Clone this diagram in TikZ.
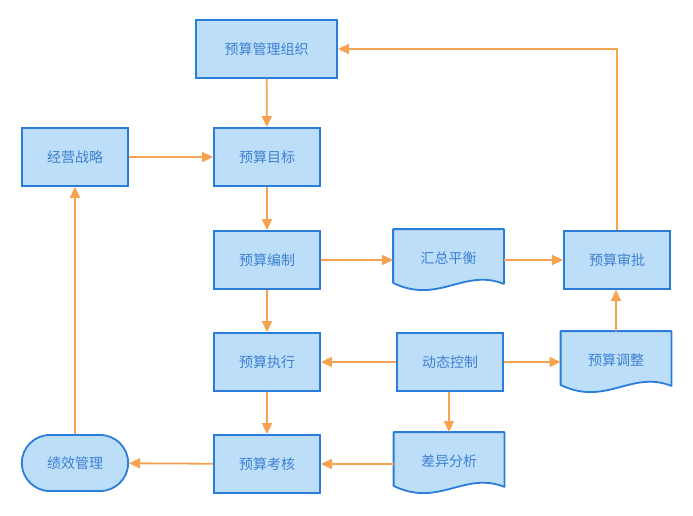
\documentclass[tikz,border=0pt]{standalone}
\usepackage{fontspec}
\setmainfont{Noto Sans CJK SC}
\usetikzlibrary{arrows.meta,shapes.misc,backgrounds}
\definecolor{boxfill}{RGB}{189,222,248}
\definecolor{boxline}{RGB}{42,126,218}
\definecolor{boxtext}{RGB}{62,128,212}
\definecolor{flowline}{RGB}{247,162,80}

% document shape with a wavy bottom, drawn behind a named node
\newcommand{\docshape}[1]{%
  \path[docline] (#1.north west) -- (#1.north east) -- ([yshift=3pt]#1.south east)
    .. controls +(-40,-16) and +(45,22) .. ([yshift=4pt]#1.south west) -- cycle;}

\begin{document}
\begin{tikzpicture}[x=1pt,y=-1pt,
  box/.style={draw=boxline,fill=boxfill,line width=1.8pt,text=boxtext,
    minimum width=106pt,minimum height=58pt,font=\fontsize{14}{16}\selectfont},
  orgbox/.style={box,minimum width=141pt},
  endbox/.style={box,rounded rectangle,minimum width=113pt,minimum height=56pt},
  docbox/.style={box,draw=none,fill=none,minimum width=109pt,minimum height=56pt},
  docline/.style={draw=boxline,fill=boxfill,line width=1.8pt,line join=round},
  flow/.style={draw=flowline,line width=1.8pt,-{Triangle[width=10pt,length=11pt]}}
]
\useasboundingbox (0,0) rectangle (693,516);

\node[orgbox] (zz) at (266.5,49) {预算管理组织};
\node[box] (zl) at (75,157) {经营战略};
\node[box] (mb) at (267,157) {预算目标};
\node[box] (bz) at (267,260) {预算编制};
\node[box] (sp) at (617,260) {预算审批};
\node[box] (zx) at (267,362) {预算执行};
\node[box] (kz) at (450,362) {动态控制};
\node[box] (kh) at (267,464) {预算考核};
\node[endbox] (jx) at (75,463) {绩效管理};

\node[docbox] (hz) at (448.5,258) {汇总平衡};
\node[docbox] (tz) at (616,360) {预算调整};
\node[docbox] (cy) at (449,461) {差异分析};

\begin{scope}[on background layer]
\docshape{hz}
\docshape{tz}
\docshape{cy}
\end{scope}

\draw[flow] (zz) -- (mb);
\draw[flow] (zl) -- (mb);
\draw[flow] (mb) -- (bz);
\draw[flow] (bz.east) -- (bz.east -| hz.west);
\draw[flow] (sp.west -| hz.east) -- (sp.west);
\draw[flow] (sp.north) -- (sp.north |- zz.east) -- (zz.east);
\draw[flow] (bz) -- (zx);
\draw[flow] (kz) -- (zx);
\draw[flow] (kz.east) -- (kz.east -| tz.west);
\draw[flow] (tz.north) -- (tz.north |- sp.south);
\draw[flow] (kz.south -| cy.north) -- (cy.north);
\draw[flow] (zx) -- (kh);
\draw[flow] (kh.east -| cy.west) -- (kh.east);
\draw[flow] (kh) -- (jx);
\draw[flow] (jx) -- (zl);
\end{tikzpicture}
\end{document}
